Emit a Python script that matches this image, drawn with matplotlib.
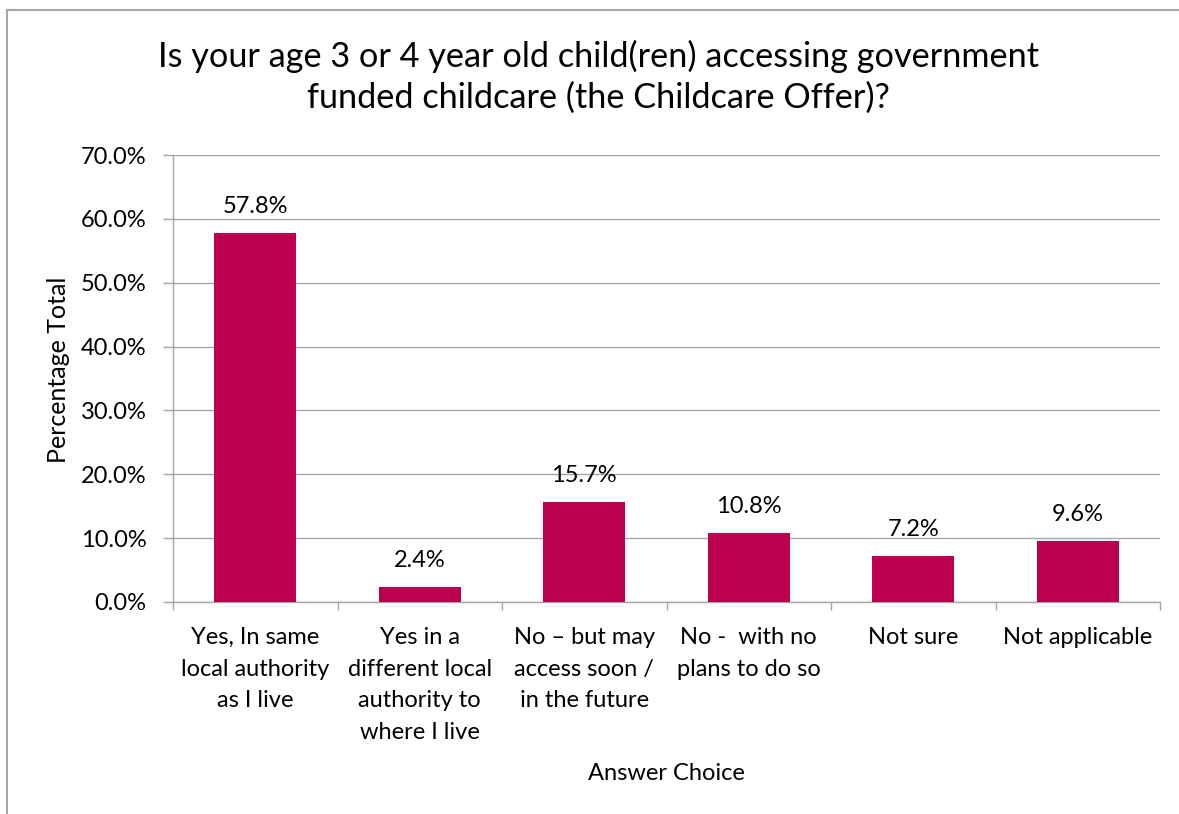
import matplotlib.pyplot as plt
from matplotlib.lines import Line2D
from matplotlib.ticker import FuncFormatter, MultipleLocator

plt.rcParams["font.family"] = ["Lato", "DejaVu Sans"]

# Survey answers and share of respondents (%)
categories = [
    "Yes, In same\nlocal authority\nas I live",
    "Yes in a\ndifferent local\nauthority to\nwhere I live",
    "No \u2013 but may\naccess soon /\nin the future",
    "No -  with no\nplans to do so",
    "Not sure",
    "Not applicable",
]
values = [57.8, 2.4, 15.7, 10.8, 7.2, 9.6]

title = ("Is your age 3 or 4 year old child(ren) accessing government\n"
         "funded childcare (the Childcare Offer)?")
bar_color = "#BA004F"
grid_color = "#A6A6A6"
fs = 17

fig = plt.figure(figsize=(11.79, 8.14), dpi=100)
W, H = 1179, 814
# plot area in pixel coordinates: left 173, right 1160, top 155, bottom 602
ax = fig.add_axes([173 / W, 1 - 602 / H, (1160 - 173) / W, (602 - 155) / H])

x = range(len(values))
ax.bar(x, values, width=0.5, color=bar_color, zorder=3)
for xi, v in zip(x, values):
    ax.text(xi, v + 3.1, f"{v:.1f}%", ha="center", va="baseline", fontsize=fs,
            color="black")

ax.set_xlim(-0.5, len(values) - 0.5)
ax.set_ylim(0, 70)
ax.yaxis.set_major_locator(MultipleLocator(10))
ax.yaxis.set_major_formatter(FuncFormatter(lambda v, p: f"{v:.1f}%"))
ax.grid(axis="y", color=grid_color, lw=1, zorder=0)

ax.set_xticks([i - 0.5 for i in range(len(values) + 1)], minor=False)
ax.set_xticklabels([])
ax.set_xticks(list(x), minor=True)
ax.set_xticklabels(categories, minor=True, fontsize=fs, linespacing=1.62)
ax.tick_params(axis="x", which="minor", length=0, pad=18)
ax.tick_params(axis="x", which="major", length=6, color=grid_color, width=1)
ax.tick_params(axis="y", length=7, color=grid_color, width=1, labelsize=fs,
               pad=12)

for side in ["top", "right"]:
    ax.spines[side].set_visible(False)
for side in ["left", "bottom"]:
    ax.spines[side].set_color(grid_color)
    ax.spines[side].set_linewidth(1)

fig.text(58 / W, 1 - 370 / H, "Percentage Total", ha="center", va="center",
         rotation=90, fontsize=18)
fig.text(666 / W, 1 - 773 / H, "Answer Choice", ha="center", va="center",
         fontsize=fs)

fig.text(598 / W, 1 - 77 / H, title, ha="center", va="center", fontsize=24.7,
         linespacing=1.32)

# chart frame (only top and left edges are visible in the crop)
fig.add_artist(Line2D([7 / W, 7 / W], [0, 1 - 10 / H], color="#A6A6A6", lw=1.5,
                      transform=fig.transFigure))
fig.add_artist(Line2D([7 / W, 1], [1 - 10 / H, 1 - 10 / H], color="#A6A6A6",
                      lw=1.5, transform=fig.transFigure))

fig.savefig("out.png", dpi=100)
